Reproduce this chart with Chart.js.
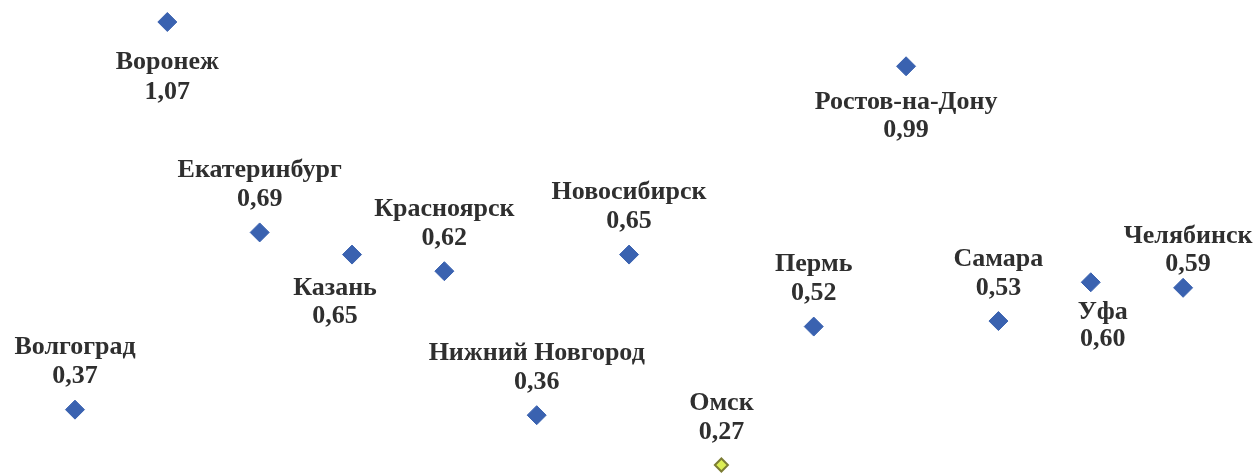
<!DOCTYPE html>
<html>
<head>
<meta charset="utf-8">
<script src="https://cdn.jsdelivr.net/npm/chart.js@4/dist/chart.umd.min.js"></script>
<style>
html,body{margin:0;padding:0;background:#fff;}
#wrap{width:1257px;height:473px;position:relative;}
</style>
</head>
<body>
<div id="wrap"><canvas id="c"></canvas></div>
<script>
const cities = ['Волгоград','Воронеж','Екатеринбург','Казань','Красноярск','Нижний Новгород','Новосибирск','Омск','Пермь','Ростов-на-Дону','Самара','Уфа','Челябинск'];
const values = [0.37,1.07,0.69,0.65,0.62,0.36,0.65,0.27,0.52,0.99,0.53,0.60,0.59];
const highlighted = ['Омск'];

// label placement (layout only): dy of name line, dy of value line, dx
const placement = {
  'Воронеж':[40,70,0],
  'Казань':[34,62,-17],
  'Ростов-на-Дону':[36,64,0],
  'Уфа':[30,57,12],
  'Челябинск':[-52,-24,5]
};
const defaultPlacement = [-62,-33,0];

const pts = values.map((v,i)=>({x:i,y:v}));
const bg = cities.map(c=>highlighted.includes(c)?'#dcee55':'#3a62b0');
const bd = cities.map(c=>highlighted.includes(c)?'#7c7d34':'#3a62b0');
const rad = cities.map(c=>highlighted.includes(c)?6.5:9.5);
const bw = cities.map(c=>highlighted.includes(c)?2:1);

const labelPlugin = {
  id:'cityLabels',
  afterDatasetsDraw(chart){
    const ctx = chart.ctx;
    const meta = chart.getDatasetMeta(0);
    ctx.save();
    ctx.fillStyle = '#2f2f2f';
    ctx.textAlign = 'center';
    ctx.textBaseline = 'middle';
    ctx.font = 'bold 26px "Liberation Serif", "Times New Roman", serif';
    meta.data.forEach((el,i)=>{
      const p = placement[cities[i]] || defaultPlacement;
      ctx.fillText(cities[i], el.x + p[2], el.y + p[0]);
      ctx.fillText(values[i].toFixed(2).replace('.',','), el.x + p[2], el.y + p[1]);
    });
    ctx.restore();
  }
};

new Chart(document.getElementById('c'),{
  type:'scatter',
  data:{datasets:[{
    data:pts,
    pointStyle:'rectRot',
    pointRadius:rad,
    pointHoverRadius:rad,
    pointBackgroundColor:bg,
    pointBorderColor:bd,
    pointBorderWidth:bw,
    clip:false
  }]},
  options:{
    responsive:true,
    maintainAspectRatio:false,
    animation:false,
    layout:{padding:0,autoPadding:false},
    plugins:{legend:{display:false},tooltip:{enabled:false}},
    scales:{
      x:{type:'linear',display:false,min:-0.812,max:12.80},
      y:{type:'linear',display:false,min:0.2556,max:1.1097}
    }
  },
  plugins:[labelPlugin]
});
</script>
</body>
</html>
